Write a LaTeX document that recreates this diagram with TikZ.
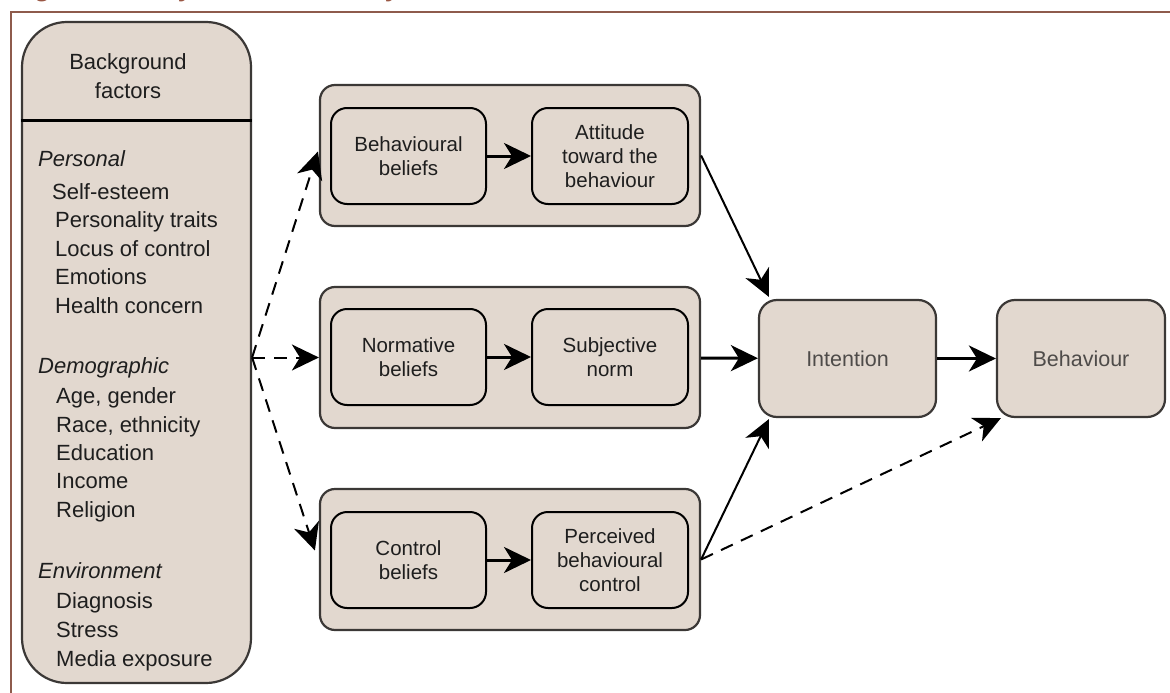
\documentclass[tikz,border=0pt]{standalone}
\usepackage{fontspec}
\setmainfont{Liberation Sans}
\usetikzlibrary{arrows.meta,calc}
\definecolor{boxfill}{HTML}{E2D8CF}
\definecolor{boxdraw}{HTML}{3B3836}
\definecolor{framebrown}{HTML}{8E5B4C}
\definecolor{titlebrown}{HTML}{9A5744}
\definecolor{txt}{HTML}{1E1E1E}
\definecolor{graytxt}{HTML}{4E4B49}
\newcommand\myboxfont{\fontsize{20.5pt}{24pt}\selectfont}
\newcommand\mybigfont{\fontsize{21.5pt}{24pt}\selectfont}
\newcommand\mylistfont{\fontsize{22pt}{28pt}\selectfont}
\newcommand\mytitlefont{\fontsize{26pt}{30pt}\selectfont\bfseries\itshape}
\begin{document}
\begin{tikzpicture}[x=1pt,y=-1pt,
  outerbox/.style={draw=boxdraw, line width=2.2pt, fill=boxfill, rounded corners=15pt,
    minimum width=380pt, minimum height=141pt, inner sep=0pt},
  innerbox/.style={draw=black, line width=2pt, fill=boxfill, rounded corners=16pt,
    minimum height=96pt, inner sep=0pt, align=center, font=\myboxfont, text=txt},
  bigbox/.style={draw=boxdraw, line width=2.2pt, fill=boxfill, rounded corners=18pt,
    minimum height=117pt, inner sep=0pt, font=\mybigfont, text=graytxt},
  tipend/.style={-{Stealth[length=27pt,width=26pt,inset=8pt]}},
  conn/.style={tipend, line width=2pt},
  thickconn/.style={tipend, line width=3pt},
  dashconn/.style={tipend, line width=2pt, dash pattern=on 13pt off 9pt},
  listitem/.style={anchor=base west, inner sep=0pt, font=\mylistfont, text=txt},
]
\useasboundingbox (0,0) rectangle (1170,693);
\fill[white] (0,0) rectangle (1170,693);

% cut-off title fragments
\begin{scope}
  \clip (0,0) rectangle (1170,8);
  \node[anchor=base west, inner sep=0pt, font=\mytitlefont, text=titlebrown] (tg1) at (36,-3) {g};
  \node[anchor=base west, inner sep=0pt, font=\mytitlefont, text=titlebrown] (tg2) at (180,-3) {y};
  \node[anchor=base west, inner sep=0pt, font=\mytitlefont, text=titlebrown] (tg3) at (387,-3) {y};
\end{scope}

% frame
\draw[framebrown, line width=2pt] (11,693) -- (11,12) -- (1170,12);

% background factors box
\node[draw=boxdraw, line width=2.2pt, fill=boxfill, rounded corners=45pt,
  minimum width=229pt, minimum height=661pt, inner sep=0pt] (bg) at (136.5,352.5) {};
\coordinate (sepy) at (0,120);
\draw[line width=3pt] (bg.west |- sepy) -- (bg.east |- sepy);
\node[anchor=base, inner sep=0pt, font=\mylistfont, text=txt] (bgt1) at (128,70) {Background};
\node[anchor=base, inner sep=0pt, font=\mylistfont, text=txt] (bgt2) at (128,99) {factors};

\foreach \yy/\xx/\tt [count=\i] in {
  166/38/\textit{Personal}, 199/52/Self-esteem, 227/55/Personality traits,
  256/55/Locus of control, 284/55/Emotions, 313/55/Health concern,
  373/38/\textit{Demographic}, 403/56/{Age, gender}, 432/56/{Race, ethnicity},
  460/56/Education, 488/56/Income, 517/56/Religion,
  578/38/\textit{Environment}, 608/56/Diagnosis, 637/56/Stress, 666/56/Media exposure}
  \node[listitem] (li\i) at (\xx,\yy) {\tt};

% group boxes
\node[outerbox] (top) at (510,155.5) {};
\node[outerbox] (mid) at (510,357.5) {};
\node[outerbox] (bot) at (510,559.5) {};

\node[innerbox, minimum width=155pt] (bb) at (408.5,156) {Behavioural\\beliefs};
\node[innerbox, minimum width=156pt] (att) at (610,156) {Attitude\\toward the\\behaviour};
\node[innerbox, minimum width=155pt] (nb) at (408.5,357) {Normative\\beliefs};
\node[innerbox, minimum width=156pt] (sn) at (610,357) {Subjective\\norm};
\node[innerbox, minimum width=155pt] (cb) at (408.5,560) {Control\\beliefs};
\node[innerbox, minimum width=156pt] (pbc) at (610,560) {Perceived\\behavioural\\control};

\node[bigbox, minimum width=177pt] (int) at (847.5,358.5) {Intention};
\node[bigbox, minimum width=168pt] (beh) at (1081,358.5) {Behaviour};

% inner arrows
\draw[thickconn] (bb) -- (att);
\draw[thickconn] (nb) -- (sn);
\draw[thickconn] (cb) -- (pbc);

% to intention / behaviour
\draw[conn] (top.east) -- ($(int.north west)+(11,-2)$);
\draw[thickconn] (mid) -- (int);
\draw[conn] (bot.east) -- ($(int.south west)+(11,1)$);
\draw[thickconn] (int) -- (beh);
\draw[dashconn] (bot.east) -- ($(beh.south west)+(5,0)$);

% dashed from background factors
\coordinate (src) at (bg.east |- mid.west);
\draw[dashconn] (src) -- ($(top.west)+(-1,-4)$);
\draw[dashconn] (src) -- (mid.west);
\draw[dashconn] (src) -- ($(bot.west)+(-4,-9)$);
\end{tikzpicture}
\end{document}
